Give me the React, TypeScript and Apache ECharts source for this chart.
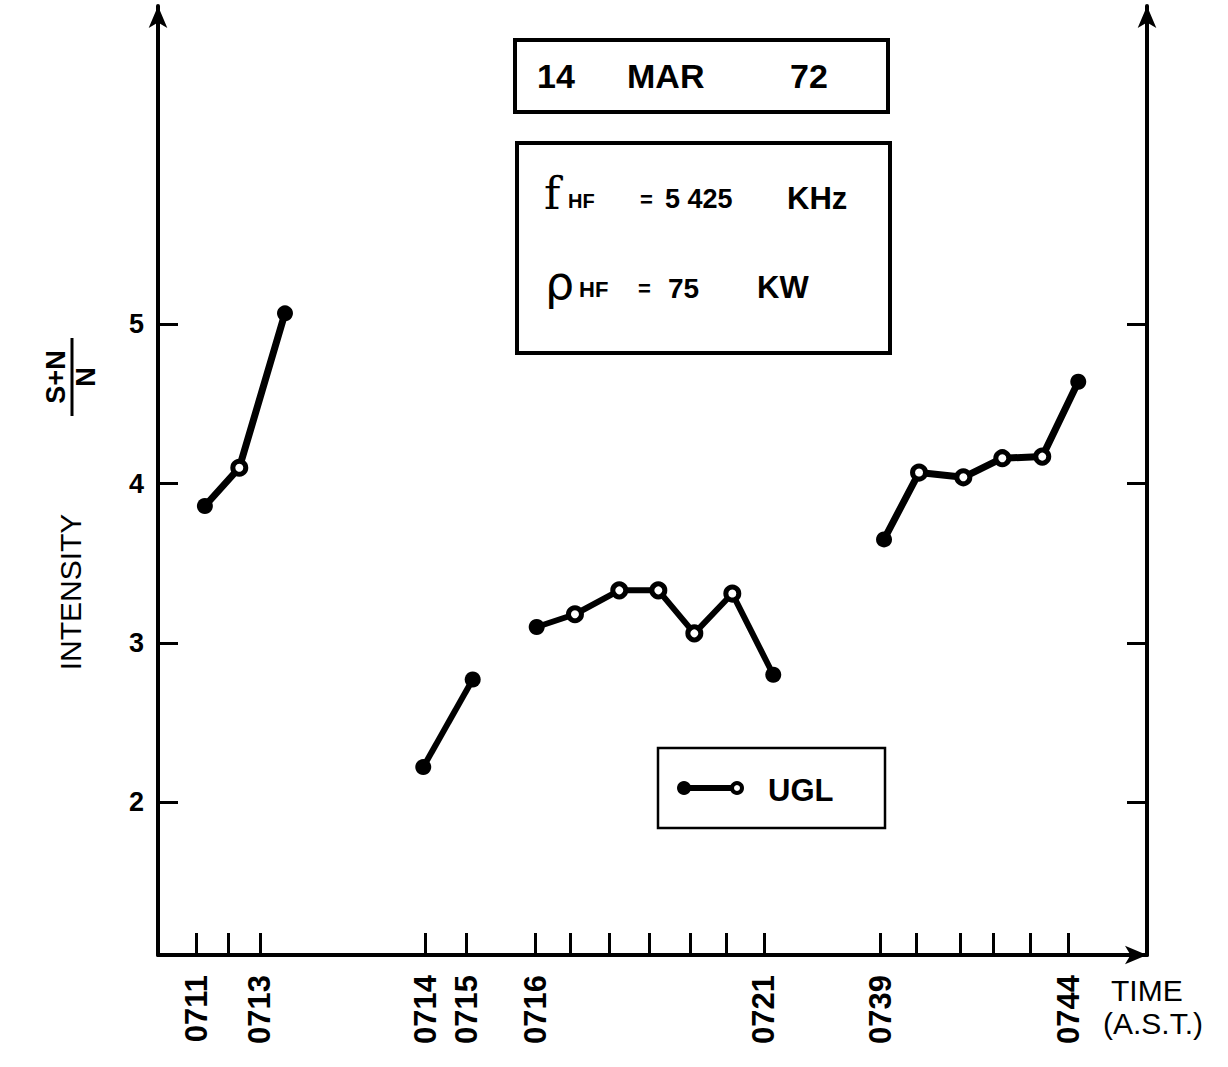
import React, { useEffect, useRef } from "react";
import * as echarts from "echarts";

// x positions are along a hand-drawn, non-linear time axis (axis units 0..100)
const tickPositions = [3.91, 7.11, 10.31, 27.0, 31.21, 38.12, 41.73, 45.63, 49.68, 53.86, 57.5, 61.27, 73.07, 76.64, 81.09, 84.46, 88.24, 92.04];
const labelPositions = [3.91, 10.31, 27.0, 31.21, 38.12, 61.27, 73.07, 92.04];
const labelTexts = ["0711", "0713", "0714", "0715", "0716", "0721", "0739", "0744"];
const yTicks = [2, 3, 4, 5];

const seg1X = [4.74, 8.22, 12.84];
const seg1Y = [3.86, 4.1, 5.07];
const seg2X = [26.82, 31.82];
const seg2Y = [2.22, 2.77];
const seg3X = [38.29, 42.16, 46.64, 50.59, 54.23, 58.07, 62.21];
const seg3Y = [3.1, 3.18, 3.33, 3.33, 3.06, 3.31, 2.8];
const seg4X = [73.41, 76.95, 81.43, 85.37, 89.41, 93.05];
const seg4Y = [3.65, 4.07, 4.04, 4.16, 4.17, 4.64];

const FONT = "'Liberation Sans', Arial, sans-serif";

function segData(xs: number[], ys: number[]) {
  return xs.map((x, i) => {
    const end = i === 0 || i === xs.length - 1;
    return {
      value: [x, ys[i]],
      symbolSize: end ? 16 : 13,
      itemStyle: end
        ? { color: "#000", borderColor: "#000", borderWidth: 0 }
        : { color: "#fff", borderColor: "#000", borderWidth: 5 },
    };
  });
}

function lineSeries(xs: number[], ys: number[], w: number) {
  return {
    type: "line",
    name: "UGL",
    data: segData(xs, ys),
    symbol: "circle",
    lineStyle: { color: "#000", width: w },
    itemStyle: { color: "#000" },
    z: 5,
  };
}

export default function App() {
  const ref = useRef<HTMLDivElement>(null);
  useEffect(() => {
    if (!ref.current) return;
    const chart = echarts.init(ref.current, null, { renderer: "svg" });
    const txt = (text: string, x: number, y: number, size: number, extra: any = {}, rot = 0) => ({
      type: "text",
      x,
      y,
      rotation: rot,
      z: 30,
      style: {
        text,
        fontSize: size,
        fontWeight: "bold",
        fontFamily: FONT,
        fill: "#000",
        verticalAlign: "middle",
        ...extra,
      },
    });
    const R = Math.PI / 2;
    chart.setOption({
      animation: false,
      backgroundColor: "#fff",
      grid: { left: 158, right: 81, top: 6, bottom: 112 },
      xAxis: {
        type: "value",
        min: 0,
        max: 100,
        axisLine: {
          show: true,
          lineStyle: { color: "#000", width: 4 },
          symbol: ["none", "arrow"],
          symbolSize: [14, 22],
        },
        axisTick: {
          show: true,
          inside: true,
          length: 22,
          customValues: tickPositions,
          lineStyle: { color: "#000", width: 3 },
        },
        axisLabel: {
          show: true,
          customValues: labelPositions,
          rotate: 90,
          margin: 20,
          fontSize: 31,
          fontWeight: "bold",
          fontFamily: FONT,
          color: "#000",
          formatter: (v: number) => {
            let best = 0;
            for (let i = 0; i < labelPositions.length; i++) {
              if (Math.abs(labelPositions[i] - v) < Math.abs(labelPositions[best] - v)) best = i;
            }
            return labelTexts[best];
          },
        },
        splitLine: { show: false },
      },
      yAxis: [
        {
          type: "value",
          min: 1.04,
          max: 7,
          axisLine: {
            show: true,
            lineStyle: { color: "#000", width: 4 },
            symbol: ["none", "arrow"],
            symbolSize: [14, 22],
          },
          axisTick: {
            show: true,
            inside: true,
            length: 20,
            customValues: yTicks,
            lineStyle: { color: "#000", width: 3 },
          },
          axisLabel: {
            show: true,
            customValues: yTicks,
            margin: 14,
            fontSize: 27,
            fontWeight: "bold",
            fontFamily: FONT,
            color: "#000",
          },
          splitLine: { show: false },
        },
        {
          type: "value",
          position: "right",
          min: 1.04,
          max: 7,
          axisLine: {
            show: true,
            lineStyle: { color: "#000", width: 4 },
            symbol: ["none", "arrow"],
            symbolSize: [14, 22],
          },
          axisTick: {
            show: true,
            inside: true,
            length: 20,
            customValues: yTicks,
            lineStyle: { color: "#000", width: 3 },
          },
          axisLabel: { show: false },
          splitLine: { show: false },
        },
      ],
      series: [
        lineSeries(seg1X, seg1Y, 7),
        lineSeries(seg2X, seg2Y, 6),
        lineSeries(seg3X, seg3Y, 6),
        lineSeries(seg4X, seg4Y, 7),
      ],
      graphic: [
        // date box
        { type: "rect", shape: { x: 515, y: 40, width: 373, height: 72 }, style: { fill: "#fff", stroke: "#000", lineWidth: 4 }, z: 10 },
        txt("14", 537, 76, 34),
        txt("MAR", 627, 76, 34),
        txt("72", 790, 76, 34),
        // parameter box
        { type: "rect", shape: { x: 517, y: 143, width: 373, height: 210 }, style: { fill: "#fff", stroke: "#000", lineWidth: 4 }, z: 10 },
        txt("f", 544, 193, 44, { fontWeight: "normal", fontFamily: "'DejaVu Serif', serif" }),
        txt("HF", 568, 201, 20),
        txt("=", 640, 199, 22),
        txt("5 425", 665, 199, 27),
        txt("KHz", 787, 198, 31),
        txt("ρ", 545, 283, 46, { fontWeight: "normal", fontFamily: "'DejaVu Sans', sans-serif" }),
        txt("HF", 579, 289, 22),
        txt("=", 638, 288, 22),
        txt("75", 668, 288, 28),
        txt("KW", 757, 287, 31),
        // legend box
        { type: "rect", shape: { x: 658, y: 748, width: 227, height: 80 }, style: { fill: "#fff", stroke: "#000", lineWidth: 2.5 }, z: 10 },
        { type: "line", shape: { x1: 683, y1: 788, x2: 737, y2: 788 }, style: { stroke: "#000", lineWidth: 6 }, z: 11 },
        { type: "circle", shape: { cx: 684, cy: 788, r: 7 }, style: { fill: "#000" }, z: 12 },
        { type: "circle", shape: { cx: 737, cy: 788, r: 5 }, style: { fill: "#fff", stroke: "#000", lineWidth: 4 }, z: 12 },
        txt("UGL", 768, 790, 31),
        // x axis title
        txt("TIME", 1111, 990, 30, { fontWeight: "normal" }),
        txt("(A.S.T.)", 1103, 1023, 30, { fontWeight: "normal" }),
        // y axis title
        txt("INTENSITY", 70, 592, 30, { fontWeight: "normal", align: "center" }, R),
        txt("S+N", 56, 377, 27, { align: "center" }, R),
        txt("N", 86, 377, 27, { align: "center" }, R),
        { type: "line", shape: { x1: 72, y1: 338, x2: 72, y2: 416 }, style: { stroke: "#000", lineWidth: 3 } },
      ],
    });
    return () => chart.dispose();
  }, []);
  return (
    <div
      ref={ref}
      style={{ position: "fixed", left: 0, top: 0, width: 1228, height: 1067, background: "#fff" }}
    />
  );
}
